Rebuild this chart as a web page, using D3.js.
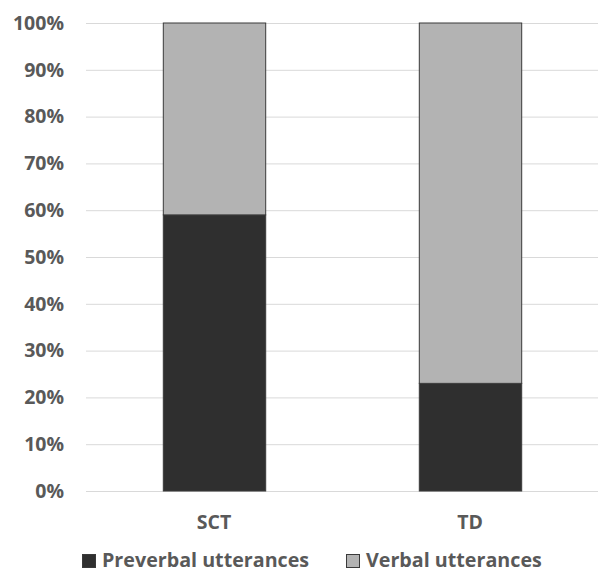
<!DOCTYPE html>
<html><head><meta charset="utf-8">
<script src="https://cdn.jsdelivr.net/npm/d3@7"></script>
<style>body{margin:0;background:#fff}svg{display:block}</style>
</head><body>
<svg id="c" width="598" height="573"></svg>
<script>
const categories = ["SCT", "TD"];
const seriesNames = ["Preverbal utterances", "Verbal utterances"];
const preverbal = [0.59, 0.23];
const verbal = [0.41, 0.77];
const yTicks = [0, 0.1, 0.2, 0.3, 0.4, 0.5, 0.6, 0.7, 0.8, 0.9, 1.0];
const colors = ["#2f2f2f", "#b3b3b3"];

const svg = d3.select("#c");
const mLeft = 86, mRight = 598, mTop = 23, mBottom = 491;
const font = "'Open Sans', Lato, sans-serif";
const x = d3.scaleBand().domain(categories).range([mLeft, mRight]).paddingInner(0.6).paddingOuter(0.3);
const y = d3.scaleLinear().domain([0, 1]).range([mBottom, mTop]);

svg.append("g").selectAll("line").data(yTicks).join("line")
  .attr("x1", mLeft).attr("x2", mRight)
  .attr("y1", d => y(d) + 0.5).attr("y2", d => y(d) + 0.5)
  .attr("stroke", "#d9d9d9").attr("stroke-width", 1);

const yAxis = d3.axisLeft(y).tickValues(yTicks).tickFormat(d3.format(".0%")).tickSize(0).tickPadding(0);
const ya = svg.append("g").attr("transform", `translate(64,0)`).call(yAxis);
ya.select(".domain").remove();
ya.selectAll("text").attr("font-family", font).attr("font-weight", "bold").attr("font-size", 19.5).attr("fill", "#595959");

const data = categories.map((c, i) => ({c, v: [preverbal[i], verbal[i]]}));
const stack = d3.stack().keys([0, 1]).value((d, k) => d.v[k]);
const series = stack(data);
series.forEach((s, k) => {
  svg.append("g").selectAll("rect").data(s).join("rect")
    .attr("x", d => x(d.data.c) + 0.5)
    .attr("width", x.bandwidth())
    .attr("y", d => y(d[1]))
    .attr("height", d => y(d[0]) - y(d[1]))
    .attr("fill", colors[k])
    .attr("stroke", "#3a3a3a").attr("stroke-width", 1);
});

const xAxis = d3.axisBottom(x).tickSize(0).tickPadding(0);
const xa = svg.append("g").attr("transform", `translate(0,${mBottom + 24})`).call(xAxis);
xa.select(".domain").remove();
xa.selectAll("text").attr("font-family", font).attr("font-weight", "bold").attr("font-size", 19.5).attr("fill", "#595959").attr("dy", "0.71em");

const legendX = [82, 346];
const lg = svg.append("g").selectAll("g").data(seriesNames).join("g")
  .attr("transform", (d, i) => `translate(${legendX[i]},554)`);
lg.append("rect").attr("width", 13).attr("height", 13).attr("fill", (d, i) => colors[i])
  .attr("stroke", "#3a3a3a").attr("stroke-width", 1).attr("x", 0.5).attr("y", 0.5);
lg.append("text").attr("x", 20).attr("y", 6).attr("dy", "0.35em")
  .attr("font-family", font).attr("font-weight", "bold").attr("font-size", 19.7).attr("fill", "#595959")
  .text(d => d);
</script>
</body></html>
